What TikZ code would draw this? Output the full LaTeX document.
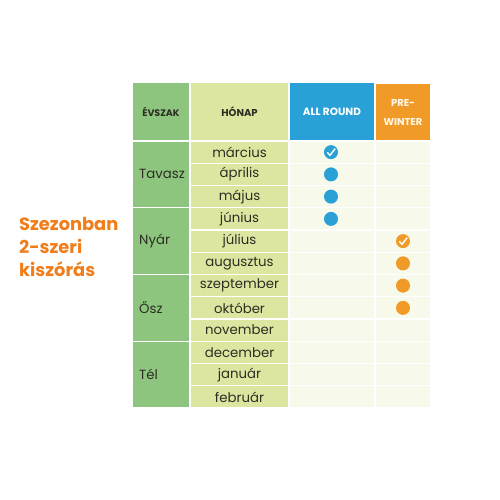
\documentclass[tikz,border=0pt]{standalone}
\usepackage{fontspec}
\setmainfont{Poppins}
\definecolor{sgreen}{RGB}{141,197,126}
\definecolor{mgreen}{RGB}{221,230,160}
\definecolor{ablue}{RGB}{41,160,214}
\definecolor{porange}{RGB}{240,155,40}
\definecolor{cellbg}{RGB}{247,249,234}
\definecolor{txtorange}{RGB}{240,125,25}
\definecolor{txtdark}{RGB}{45,45,35}
\definecolor{hdrwhite}{RGB}{255,248,235}
\begin{document}
\begin{tikzpicture}[x=1pt,y=-1pt,
  cell/.style={draw=white, line width=1.2pt, inner sep=0pt, text=txtdark},
  hdr/.style={cell, minimum height=59pt, font=\fontsize{10}{18.5}\selectfont\bfseries},
  mtext/.style={font=\fontsize{13.3}{15}\selectfont, text=txtdark},
  dotA/.style={fill=ablue, draw=none},
  dotP/.style={fill=porange, draw=none},
  tick/.style={draw=white, line width=1.4pt, line cap=round, line join=round}
]
\useasboundingbox (0,0) rectangle (500,500);
% header
\node[hdr, fill=sgreen, minimum width=58pt, font=\fontsize{9.5}{18}\selectfont\bfseries] (hE) at (161,111.5) {ÉVSZAK};
\node[hdr, fill=mgreen, minimum width=99pt] (hH) at (239.5,111.5) {HÓNAP};
\node[hdr, fill=ablue, text=white, minimum width=86pt, font=\fontsize{10.5}{18}\selectfont\bfseries] (hA) at (332,111.5) {ALL ROUND};
\node[hdr, fill=porange, text=hdrwhite, minimum width=56pt, align=center] (hP) at (403,112.5) {PRE-\\WINTER};
% month rows
\foreach \m [count=\i from 0] in {március,április,május,június,július,augusztus,szeptember,október,november,december,január,február}{
  \pgfmathsetmacro{\yc}{141+(\i+0.5)*22.25}
  \node[cell, fill=mgreen, minimum width=99pt, minimum height=22.25pt, mtext] (m\i) at (239.5,\yc) {\m};
  \node[cell, fill=cellbg, minimum width=86pt, minimum height=22.25pt] (a\i) at (332,\yc) {};
  \node[cell, fill=cellbg, minimum width=56pt, minimum height=22.25pt] (p\i) at (403,\yc) {};
}
% seasons
\foreach \s [count=\k from 0] in {Tavasz,Nyár,Ősz,Tél}{
  \pgfmathsetmacro{\yc}{141+(3*\k+1.5)*22.25}
  \node[cell, fill=sgreen, minimum width=58pt, minimum height=66.75pt] (s\k) at (161,\yc) {};
  \node[mtext, anchor=west, inner sep=0pt] (st\k) at (139,\yc) {\s};
}
% markers
\foreach \i in {0,1,2,3}{
  \fill[dotA] (a\i.center) ++(-1,0) circle (7pt);
}
\foreach \i in {4,5,6,7}{
  \fill[dotP] (p\i.center) circle (7pt);
}
\draw[tick] (a0.center) ++(-4.5,0.5) -- ++(2.5,2.7) -- ++(5,-6.5);
\draw[tick] (p4.center) ++(-3.5,0.5) -- ++(2.5,2.7) -- ++(5,-6.5);
% left label
\node[anchor=west, align=left, text=txtorange, inner sep=0pt,
  font=\fontsize{17.8}{23}\selectfont\bfseries] (lbl) at (19,247) {Szezonban\\2-szeri\\kiszórás};
\end{tikzpicture}
\end{document}
